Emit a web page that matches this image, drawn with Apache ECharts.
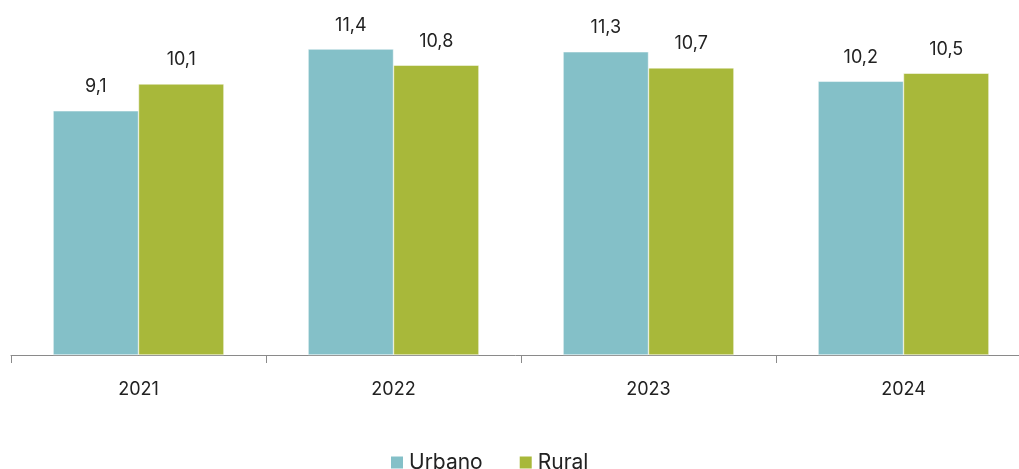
<!DOCTYPE html>
<html>
<head>
<meta charset="utf-8">
<script src="https://cdn.jsdelivr.net/npm/echarts@6/dist/echarts.min.js"></script>
<style>
html, body { margin: 0; padding: 0; background: #fff; }
#main { width: 1019px; height: 469px; }
</style>
</head>
<body>
<div id="main"></div>
<script>
// datos
var years = ['2021', '2022', '2023', '2024'];
var urbano = [9.1, 11.4, 11.3, 10.2];
var rural = [10.1, 10.8, 10.7, 10.5];

var FONT = 'Inter, "Noto Sans", sans-serif';

function fmt(p) {
	return String(p.value.toFixed(1)).replace('.', ',');
}

var myChart = echarts.init(document.getElementById('main'));
myChart.setOption({
	animation: false,
	color: ['#84C0C8', '#A8B83A'],
	textStyle: { fontFamily: FONT },
	// el eje sigue fuera del lienzo por la derecha
	grid: { left: 11, width: 1020, top: 33, bottom: 114, containLabel: false, outerBoundsMode: 'none' },
	legend: {
		top: 447,
		left: 384,
		itemWidth: 14,
		itemHeight: 14,
		itemGap: 35,
		icon: 'rect',
		textStyle: { fontSize: 21, color: '#222', fontFamily: FONT },
		data: ['Urbano', 'Rural']
	},
	xAxis: {
		type: 'category',
		data: years,
		axisLine: { lineStyle: { color: '#8a8a8a', width: 1 } },
		axisTick: { show: true, length: 8, lineStyle: { color: '#8a8a8a' } },
		axisLabel: { fontSize: 18, color: '#222', margin: 26, fontFamily: FONT }
	},
	yAxis: {
		type: 'value',
		min: 0,
		max: 12,
		show: false,
		splitLine: { show: false }
	},
	series: [
		{
			name: 'Urbano', type: 'bar', data: urbano,
			barGap: '0%', barCategoryGap: '33%',
			itemStyle: { borderColor: '#fff', borderWidth: 0.5 },
			label: { show: true, position: 'top', distance: 15, fontSize: 18, color: '#222', formatter: fmt }
		},
		{
			name: 'Rural', type: 'bar', data: rural,
			barGap: '0%', barCategoryGap: '33%',
			itemStyle: { borderColor: '#fff', borderWidth: 0.5 },
			label: { show: true, position: 'top', distance: 15, fontSize: 18, color: '#222', formatter: fmt }
		}
	]
});
</script>
</body>
</html>
